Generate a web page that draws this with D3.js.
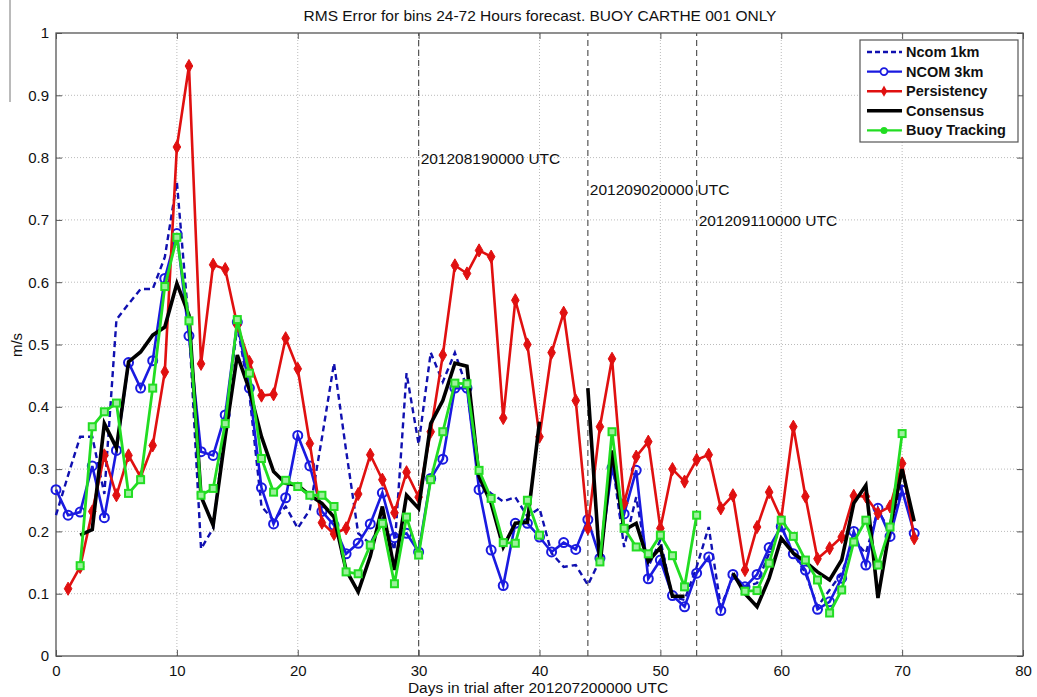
<!DOCTYPE html>
<html>
<head>
<meta charset="utf-8">
<script src="https://cdn.jsdelivr.net/npm/d3@7"></script>
<style>
  body { margin: 0; background: #fff; }
  text { font-family: "Liberation Sans", Arial, sans-serif; }
</style>
</head>
<body>
<div id="chart"></div>
<script>
// days 0..71, null = no value
var days = d3.range(0, 72);

var ncom1km = [0.226, 0.29, 0.352, 0.352, 0.26, 0.54, 0.565, 0.589, 0.589, 0.64,
  0.761, 0.53, 0.172, 0.205, 0.37, 0.53, 0.42, 0.24, 0.218, 0.24,
  0.205, 0.235, 0.35, 0.47, 0.33, 0.197, 0.18, 0.22, 0.17, 0.454,
  0.34, 0.487, 0.44, 0.487, 0.43, 0.277, 0.261, 0.248, 0.255, 0.224,
  0.237, 0.165, 0.143, 0.146, 0.114, 0.154, 0.315, 0.175, 0.255, 0.143,
  0.186, 0.095, 0.09, 0.143, 0.207, 0.079, 0.127, 0.111, 0.117, 0.165,
  0.208, 0.165, 0.133, 0.079, 0.106, 0.133, 0.186, 0.165, 0.234, 0.2,
  0.277, null];

var ncom3km = [0.267, 0.226, 0.231, 0.305, 0.222, 0.33, 0.471, 0.43, 0.474, 0.606,
  0.678, 0.514, 0.328, 0.322, 0.387, 0.536, 0.43, 0.27, 0.212, 0.254,
  0.354, 0.305, 0.232, 0.21, 0.164, 0.181, 0.212, 0.262, 0.19, 0.197,
  0.167, 0.285, 0.316, 0.43, 0.43, 0.267, 0.17, 0.113, 0.213, 0.213,
  0.191, 0.167, 0.182, 0.171, 0.219, 0.157, 0.302, 0.228, 0.298, 0.124,
  0.154, 0.097, 0.079, 0.133, 0.159, 0.073, 0.131, 0.111, 0.131, 0.174,
  0.208, 0.164, 0.138, 0.075, 0.087, 0.125, 0.2, 0.146, 0.237, 0.192,
  0.266, 0.197];

var persistency = [null, 0.108, 0.143, 0.232, 0.322, 0.258, 0.322, 0.287, 0.338, 0.456,
  0.817, 0.947, 0.469, 0.628, 0.621, 0.531, 0.472, 0.418, 0.42, 0.51,
  0.461, 0.341, 0.214, 0.196, 0.205, 0.26, 0.323, 0.283, 0.23, 0.295,
  0.255, 0.36, 0.483, 0.627, 0.614, 0.651, 0.641, 0.382, 0.571, 0.5,
  0.352, 0.487, 0.551, 0.41, 0.205, 0.368, 0.477, 0.245, 0.32, 0.344,
  0.205, 0.3, 0.28, 0.315, 0.323, 0.237, 0.258, 0.138, 0.207, 0.263,
  0.22, 0.368, 0.256, 0.156, 0.173, 0.191, 0.257, 0.256, 0.229, 0.24,
  0.309, 0.189];

var consensus = [null, null, 0.194, 0.203, 0.373, 0.334, 0.472, 0.488, 0.515, 0.528,
  0.598, 0.547, 0.256, 0.21, 0.352, 0.483, 0.427, 0.352, 0.296, 0.277,
  0.274, 0.258, 0.245, 0.223, 0.138, 0.103, 0.16, 0.24, 0.138, 0.258,
  0.237, 0.373, 0.41, 0.47, 0.465, 0.288, 0.245, 0.175, 0.213, 0.215,
  0.376, null, null, null, 0.43, 0.145, 0.33, 0.202, 0.213, 0.152,
  0.174, 0.096, 0.096, null, null, null, 0.133, 0.1, 0.079, 0.125,
  0.189, 0.165, 0.151, 0.135, 0.122, 0.154, 0.245, 0.274, 0.093, 0.207,
  0.3, 0.216];

var buoy = [null, null, 0.145, 0.368, 0.392, 0.406, 0.261, 0.283, 0.43, 0.593,
  0.672, 0.538, 0.258, 0.269, 0.373, 0.54, 0.454, 0.317, 0.263, 0.282,
  0.272, 0.258, 0.258, 0.24, 0.135, 0.132, 0.178, 0.213, 0.116, 0.223,
  0.162, 0.283, 0.36, 0.438, 0.437, 0.298, 0.253, 0.182, 0.181, 0.25,
  0.194, null, null, null, null, 0.151, 0.36, 0.205, 0.175, 0.164,
  0.194, 0.161, 0.111, 0.226, null, null, null, 0.104, 0.105, 0.149,
  0.218, 0.192, 0.154, 0.122, 0.069, 0.106, 0.183, 0.218, 0.146, 0.207,
  0.357, null];

var xTicks = [0, 10, 20, 30, 40, 50, 60, 70, 80];
var yTicks = [0, 0.1, 0.2, 0.3, 0.4, 0.5, 0.6, 0.7, 0.8, 0.9, 1];
var yTickLabels = ["0", "0.1", "0.2", "0.3", "0.4", "0.5", "0.6", "0.7", "0.8", "0.9", "1"];

// forecast start markers
var eventDays = [30, 44, 53];
var eventLevels = [0.8, 0.75, 0.7];
var eventLabels = ["201208190000 UTC", "201209020000 UTC", "201209110000 UTC"];

var legendNames = ["Ncom 1km", "NCOM 3km", "Persistency", "Consensus", "Buoy Tracking"];

var W = 1037, H = 697;
var margin = { left: 56, right: 14, top: 33, bottom: 41 };

var svg = d3.select("#chart").append("svg")
  .attr("width", W).attr("height", H)
  .style("background", "#fff");

var x = d3.scaleLinear().domain([0, 80]).range([margin.left, W - margin.right]);
var y = d3.scaleLinear().domain([0, 1]).range([H - margin.bottom, margin.top]);

// stray scan line at the far left
svg.append("line")
  .attr("x1", 10).attr("x2", 10).attr("y1", 0).attr("y2", 102)
  .attr("stroke", "#777").attr("stroke-width", 1);

// grid
svg.append("g").selectAll("line").data(xTicks.slice(1, -1)).enter().append("line")
  .attr("x1", d => x(d)).attr("x2", d => x(d))
  .attr("y1", y(0)).attr("y2", y(1))
  .attr("stroke", "#bbb").attr("stroke-width", 1).attr("stroke-dasharray", "1,2");
svg.append("g").selectAll("line").data(yTicks.slice(1, -1)).enter().append("line")
  .attr("x1", x(0)).attr("x2", x(80))
  .attr("y1", d => y(d)).attr("y2", d => y(d))
  .attr("stroke", "#bbb").attr("stroke-width", 1).attr("stroke-dasharray", "1,2");

// event lines
svg.append("g").selectAll("line").data(eventDays).enter().append("line")
  .attr("x1", d => x(d)).attr("x2", d => x(d))
  .attr("y1", y(0)).attr("y2", y(1))
  .attr("stroke", "#555").attr("stroke-width", 1.2).attr("stroke-dasharray", "6,4");
svg.append("g").selectAll("text").data(eventDays).enter().append("text")
  .attr("x", d => x(d) + 2)
  .attr("y", (d, i) => y(eventLevels[i]) + 6)
  .attr("font-size", 15.5).attr("fill", "#111")
  .text((d, i) => eventLabels[i]);

// axes
var xAxis = d3.axisBottom(x).tickValues(xTicks).tickSize(-6).tickPadding(9);
var yAxis = d3.axisLeft(y).tickValues(yTicks).tickSize(-6).tickPadding(7)
  .tickFormat((d, i) => yTickLabels[i]);

var gx = svg.append("g").attr("transform", "translate(0," + y(0) + ")").call(xAxis);
var gy = svg.append("g").attr("transform", "translate(" + x(0) + ",0)").call(yAxis);
var gxt = svg.append("g").attr("transform", "translate(0," + y(1) + ")")
  .call(d3.axisTop(x).tickValues(xTicks).tickSize(-6).tickFormat(""));
var gyr = svg.append("g").attr("transform", "translate(" + x(80) + ",0)")
  .call(d3.axisRight(y).tickValues(yTicks).tickSize(-6).tickFormat(""));
[gx, gy, gxt, gyr].forEach(function (g) {
  g.select(".domain").remove();
  g.selectAll(".tick line").attr("stroke", "#555");
  g.selectAll("text").attr("font-size", 15).attr("fill", "#111")
    .style("font-family", "'Liberation Sans', Arial, sans-serif");
});

svg.append("rect")
  .attr("x", x(0)).attr("y", y(1))
  .attr("width", x(80) - x(0)).attr("height", y(0) - y(1))
  .attr("fill", "none").attr("stroke", "#555").attr("stroke-width", 1.3);

// series
var line = d3.line()
  .defined(d => d.v != null)
  .x(d => x(d.day)).y(d => y(d.v));

function pts(arr) {
  return days.map(function (d, i) { return { day: d, v: arr[i] }; });
}

var plot = svg.append("g");

plot.append("path").datum(pts(ncom1km)).attr("d", line)
  .attr("fill", "none").attr("stroke", "#1010b0").attr("stroke-width", 2.4)
  .attr("stroke-dasharray", "6,4");

plot.append("path").datum(pts(ncom3km)).attr("d", line)
  .attr("fill", "none").attr("stroke", "#1a1ae0").attr("stroke-width", 2.6);
plot.append("g").selectAll("circle").data(pts(ncom3km).filter(d => d.v != null))
  .enter().append("circle")
  .attr("cx", d => x(d.day)).attr("cy", d => y(d.v)).attr("r", 4.5)
  .attr("fill", "none").attr("stroke", "#1a1ae0").attr("stroke-width", 2);

plot.append("path").datum(pts(persistency)).attr("d", line)
  .attr("fill", "none").attr("stroke", "#e01010").attr("stroke-width", 2.6);
plot.append("g").selectAll("path").data(pts(persistency).filter(d => d.v != null))
  .enter().append("path")
  .attr("d", d3.symbol().type(d3.symbolDiamond).size(50))
  .attr("transform", d => "translate(" + x(d.day) + "," + y(d.v) + ")")
  .attr("fill", "#e01010").attr("stroke", "#e01010").attr("stroke-width", 1);

plot.append("path").datum(pts(consensus)).attr("d", line)
  .attr("fill", "none").attr("stroke", "#000").attr("stroke-width", 3.6);

plot.append("path").datum(pts(buoy)).attr("d", line)
  .attr("fill", "none").attr("stroke", "#22dd22").attr("stroke-width", 2.8);
plot.append("g").selectAll("rect").data(pts(buoy).filter(d => d.v != null))
  .enter().append("rect")
  .attr("x", d => x(d.day) - 3.5).attr("y", d => y(d.v) - 3.5)
  .attr("width", 7).attr("height", 7)
  .attr("fill", "#9df09d").attr("stroke", "#22dd22").attr("stroke-width", 2);

// titles
svg.append("text").attr("x", 540).attr("y", 21).attr("text-anchor", "middle")
  .attr("font-size", 15.5).attr("fill", "#111")
  .text("RMS Error for bins 24-72 Hours forecast. BUOY CARTHE 001 ONLY");
svg.append("text").attr("x", 538).attr("y", 693).attr("text-anchor", "middle")
  .attr("font-size", 15.5).attr("fill", "#111")
  .text("Days in trial after 201207200000 UTC");
svg.append("text").attr("transform", "translate(22,345) rotate(-90)")
  .attr("text-anchor", "middle").attr("font-size", 15).attr("fill", "#111")
  .text("m/s");

// legend
var lg = svg.append("g").attr("transform", "translate(860,40)");
lg.append("rect").attr("width", 158).attr("height", 102)
  .attr("fill", "#fff").attr("stroke", "#555").attr("stroke-width", 1.2);
var rows = lg.selectAll("g.row").data(legendNames).enter().append("g")
  .attr("class", "row")
  .attr("transform", (d, i) => "translate(0," + (12 + i * 19.6) + ")");
var legendColors = ["#1010b0", "#1a1ae0", "#e01010", "#000", "#22dd22"];
rows.append("line")
  .attr("x1", 7).attr("x2", 42).attr("y1", 0).attr("y2", 0)
  .attr("stroke", (d, i) => legendColors[i])
  .attr("stroke-width", (d, i) => i === 3 ? 3.6 : 2.4)
  .attr("stroke-dasharray", (d, i) => i === 0 ? "5,3" : null);
rows.filter((d, i) => i === 1).append("circle")
  .attr("cx", 24).attr("cy", 0).attr("r", 3.5)
  .attr("fill", "#fff").attr("stroke", "#1a1ae0").attr("stroke-width", 1.8);
rows.filter((d, i) => i === 2).append("path")
  .attr("d", d3.symbol().type(d3.symbolDiamond).size(36))
  .attr("transform", "translate(24,0)").attr("fill", "#e01010");
rows.filter((d, i) => i === 4).append("circle")
  .attr("cx", 24).attr("cy", 0).attr("r", 3.5).attr("fill", "#22dd22");
rows.append("text").attr("x", 46).attr("y", 5)
  .attr("font-size", 14.5).attr("font-weight", "bold").attr("fill", "#111")
  .text(d => d);
</script>
</body>
</html>
